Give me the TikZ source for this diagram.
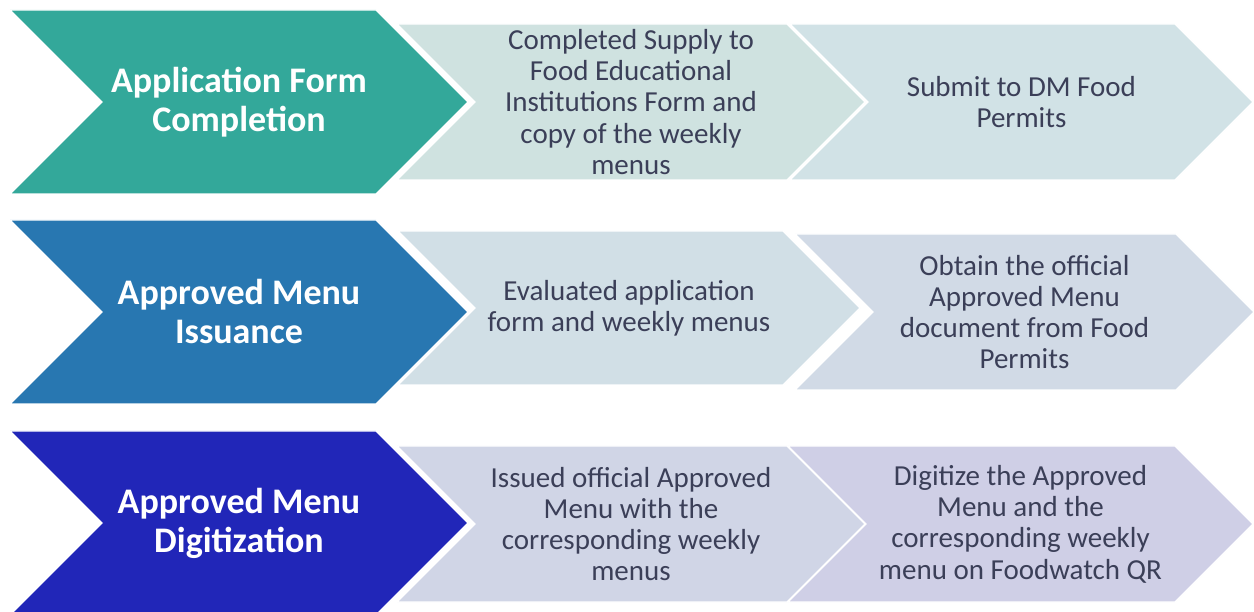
\documentclass[tikz,border=0pt]{standalone}
\usepackage{fontspec}
\setmainfont{Carlito}
\usetikzlibrary{shapes.symbols}
\definecolor{tealhead}{RGB}{51,168,154}
\definecolor{bluehead}{RGB}{40,119,177}
\definecolor{indigohead}{RGB}{33,38,184}
\definecolor{lightA}{RGB}{207,226,224}
\definecolor{lightB}{RGB}{209,226,230}
\definecolor{lightC}{RGB}{209,223,230}
\definecolor{lightD}{RGB}{209,218,230}
\definecolor{lightE}{RGB}{208,213,230}
\definecolor{lightF}{RGB}{207,207,230}
\definecolor{txtgray}{RGB}{59,63,88}
\tikzset{
chevron/.style={signal,signal from=west,signal to=east,signal pointer angle=90,
  draw=white,line width=1.2pt,inner sep=0pt,align=center},
head chevron/.style={chevron,minimum height=184pt,minimum width=458pt,text=white,
  font=\bfseries\fontsize{36}{39}\selectfont},
step chevron/.style={chevron,minimum height=156pt,text=txtgray,
  font=\fontsize{29}{31.3}\selectfont}}

\begin{document}
\begin{tikzpicture}[x=1pt,y=-1pt]
\useasboundingbox (0,0) rectangle (1254,612);

% row 1
\node[step chevron,fill=lightB,minimum width=463pt] (formsubmit) at (1021.5,102) {Submit to DM Food\\Permits};
\node[step chevron,fill=lightA,minimum width=468pt] (formstep) at (631,102) {Completed Supply to\\Food Educational\\Institutions Form and\\copy of the weekly\\menus};
\node[head chevron,fill=tealhead] (formhead) at (239,102) {Application Form\\Completion};

% row 2
\node[step chevron,fill=lightD,minimum width=459pt] (issueobtain) at (1024.5,312) {Obtain the official\\Approved Menu\\document from Food\\Permits};
\node[step chevron,fill=lightC,minimum width=462pt,minimum height=154pt] (issuestep) at (629,308) {Evaluated application\\form and weekly menus};
\node[head chevron,fill=bluehead] (issuehead) at (239,312) {Approved Menu\\Issuance};

% row 3
\node[step chevron,fill=lightF,minimum width=465pt] (digiqr) at (1020.5,524) {Digitize the Approved\\Menu and the\\corresponding weekly\\menu on Foodwatch QR};
\node[step chevron,fill=lightE,minimum width=468pt] (digistep) at (631,524) {Issued official Approved\\Menu with the\\corresponding weekly\\menus};
\node[head chevron,fill=indigohead] (digihead) at (239,523) {Approved Menu\\Digitization};
\end{tikzpicture}
\end{document}
